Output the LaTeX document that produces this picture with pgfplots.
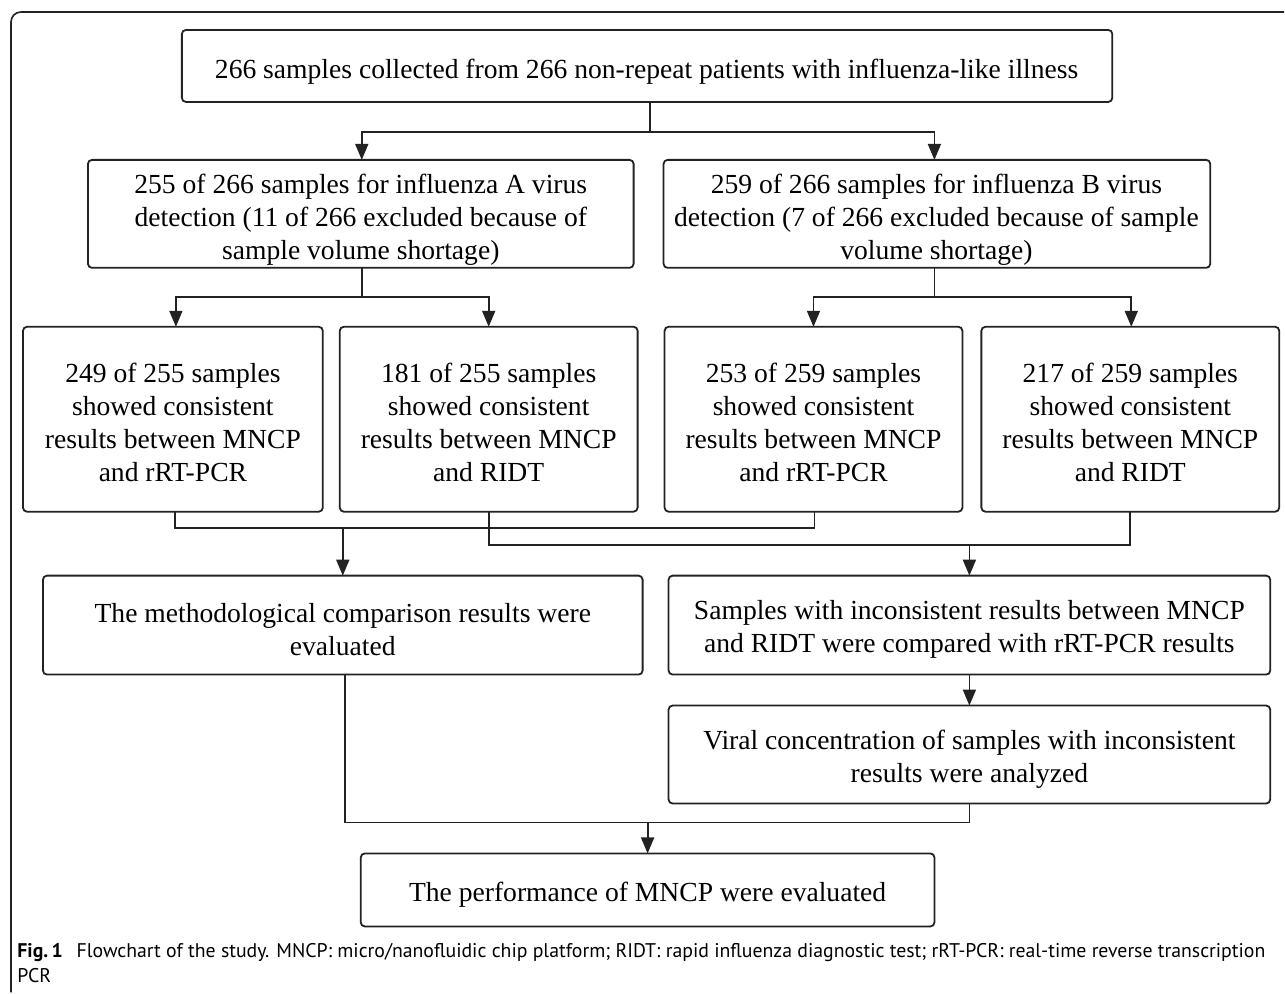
\documentclass[border=0pt]{standalone}
\usepackage{pgfplots}
\pgfplotsset{compat=1.18}
\usepackage{fontspec}
\setmainfont{Liberation Serif}
\newfontfamily\capfont{PT Sans}
\usetikzlibrary{arrows.meta}
\definecolor{ink}{HTML}{222222}
\newcommand\bfs{\fontsize{13.8}{16.5}\selectfont}
\begin{document}
\begin{tikzpicture}
\begin{axis}[hide axis, scale only axis, width=642.5pt, height=496.5pt,
  xmin=0, xmax=1285, ymin=0, ymax=993, y dir=reverse, clip=false]
\path (0,0) rectangle (1285,993);
% outer frame
\draw[ink, line width=0.8pt, rounded corners=5pt] (1285,12) -- (11,12) -- (11,993);
% boxes
\tikzset{bx/.style={draw=ink, line width=0.9pt, rounded corners=2pt}}
\draw[bx] (182,30) rectangle (1113,102);
\draw[bx] (88,160) rectangle (634,268);
\draw[bx] (664,160) rectangle (1211,268);
\draw[bx] (23,327) rectangle (323,512);
\draw[bx] (340,327) rectangle (638,512);
\draw[bx] (665,327) rectangle (963,512);
\draw[bx] (982,327) rectangle (1280,512);
\draw[bx] (43,576) rectangle (643,675);
\draw[bx] (669,576) rectangle (1271,675);
\draw[bx] (669,706) rectangle (1271,804);
\draw[bx] (361,854) rectangle (935,927);
% connectors
\addplot[ink, line width=0.9pt, mark=none] coordinates {(650,102) (650,132)};
\addplot[ink, line width=0.9pt, mark=none, -{Triangle[length=8pt,width=6.5pt]}] coordinates {(650,132) (362,132) (362,160)};
\addplot[ink, line width=0.9pt, mark=none, -{Triangle[length=8pt,width=6.5pt]}] coordinates {(650,132) (935,132) (935,160)};
\addplot[ink, line width=0.9pt, mark=none] coordinates {(362,268) (362,297)};
\addplot[ink, line width=0.9pt, mark=none, -{Triangle[length=8pt,width=6.5pt]}] coordinates {(362,297) (176,297) (176,327)};
\addplot[ink, line width=0.9pt, mark=none, -{Triangle[length=8pt,width=6.5pt]}] coordinates {(362,297) (489,297) (489,327)};
\addplot[ink, line width=0.9pt, mark=none] coordinates {(935,268) (935,297)};
\addplot[ink, line width=0.9pt, mark=none, -{Triangle[length=8pt,width=6.5pt]}] coordinates {(935,297) (814,297) (814,327)};
\addplot[ink, line width=0.9pt, mark=none, -{Triangle[length=8pt,width=6.5pt]}] coordinates {(935,297) (1132,297) (1132,327)};
\addplot[ink, line width=0.9pt, mark=none] coordinates {(175,512) (175,528) (815,528) (815,512)};
\addplot[ink, line width=0.9pt, mark=none] coordinates {(489,512) (489,545) (1131,545) (1131,512)};
\addplot[ink, line width=0.9pt, mark=none, -{Triangle[length=8pt,width=6.5pt]}] coordinates {(343,528) (343,576)};
\addplot[ink, line width=0.9pt, mark=none, -{Triangle[length=8pt,width=6.5pt]}] coordinates {(970,545) (970,576)};
\addplot[ink, line width=0.9pt, mark=none, -{Triangle[length=8pt,width=6.5pt]}] coordinates {(970,675) (970,706)};
\addplot[ink, line width=0.9pt, mark=none] coordinates {(345,675) (345,823) (970,823) (970,804)};
\addplot[ink, line width=0.9pt, mark=none, -{Triangle[length=8pt,width=6.5pt]}] coordinates {(648,823) (648,854)};
% texts
\tikzset{tx/.style={font=\bfs, align=center, text=black, inner sep=0pt}}
\node[tx] at (647,72) {266 samples collected from 266 non-repeat patients with influenza-like illness};
\node[tx] at (361,220) {255 of 266 samples for influenza A virus\\detection (11 of 266 excluded because of\\sample volume shortage)};
\node[tx] at (937,220) {259 of 266 samples for influenza B virus\\detection (7 of 266 excluded because of sample\\volume shortage)};
\node[tx] at (173,423) {249 of 255 samples\\showed consistent\\results between MNCP\\and rRT-PCR};
\node[tx] at (489,423) {181 of 255 samples\\showed consistent\\results between MNCP\\and RIDT};
\node[tx] at (814,423) {253 of 259 samples\\showed consistent\\results between MNCP\\and rRT-PCR};
\node[tx] at (1131,423) {217 of 259 samples\\showed consistent\\results between MNCP\\and RIDT};
\node[tx] at (343,630) {The methodological comparison results were\\evaluated};
\node[tx] at (970,630) {Samples with inconsistent results between MNCP\\and RIDT were compared with rRT-PCR results};
\node[tx] at (970,760) {Viral concentration of samples with inconsistent\\results were analyzed};
\node[tx] at (648,895) {The performance of MNCP were evaluated};
% caption
\node[anchor=north west, align=left, inner sep=0pt, font=\capfont\fontsize{9.9}{12.4}\selectfont] at (17,944)
  {{\bfseries Fig.\,1}\hspace{0.7em}Flowchart of the study. MNCP: micro/nanofluidic chip platform; RIDT: rapid influenza diagnostic test; rRT-PCR: real-time reverse transcription\\PCR};
\end{axis}
\end{tikzpicture}
\end{document}
